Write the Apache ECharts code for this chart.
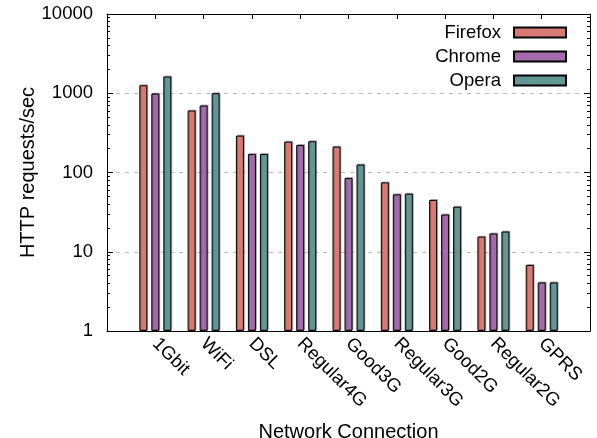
<!DOCTYPE html>
<html>
<head>
<meta charset="utf-8">
<script src="https://cdn.jsdelivr.net/npm/echarts@6/dist/echarts.min.js"></script>
<style>html,body{margin:0;padding:0;background:#fff}#c{width:597px;height:438px}</style>
</head>
<body>
<div id="c"></div>
<script>
var categories = ['1Gbit','WiFi','DSL','Regular4G','Good3G','Regular3G','Good2G','Regular2G','GPRS'];
var firefox = [1260, 605, 292, 245, 212, 75, 45, 15.5, 6.8];
var chrome  = [990, 700, 171, 222, 85, 53, 29.5, 17, 4.1];
var opera   = [1625, 1000, 171, 248, 126, 54, 37, 18, 4.1];
var yTickLabels = [1, 10, 100, 1000, 10000];
var minorTickValues = [2,3,4,5,6,7,8,9,20,30,40,50,60,70,80,90,200,300,400,500,600,700,800,900,2000,3000,4000,5000,6000,7000,8000,9000];

var FONT = 'Liberation Sans';
var axisCats = [''].concat(categories, ['']);
function pad(a){ return [null].concat(a, [null]); }

var chart = echarts.init(document.getElementById('c'));
function yAx(pos, major, labels){
  return {
    type: 'log', logBase: 10, min: 1, max: 10000, position: pos,
    axisLine: {show: major, lineStyle: {color: '#000', width: 1}},
    axisTick: major ? {show: true, inside: true, length: 6, lineStyle: {color: '#000'}}
                    : {show: true, inside: true, length: 3, lineStyle: {color: '#000'}, customValues: minorTickValues},
    axisLabel: {show: labels, color: '#000', fontFamily: FONT, fontSize: 18.5, margin: 14,
      formatter: function(v){ return String(Math.round(v)); }},
    splitLine: {show: major && labels, lineStyle: {color: '#bbbbbb', type: [4, 5], width: 1}},
    name: labels ? 'HTTP requests/sec' : '',
    nameLocation: 'middle', nameGap: 69, nameRotate: 90, nameMoveOverlap: false,
    nameTextStyle: {color: '#000', fontFamily: FONT, fontSize: 20}
  };
}
function barStyle(c){
  return {color: c, borderColor: '#000', borderWidth: 1,
    shadowColor: 'rgba(0,0,0,0.25)', shadowBlur: 0, shadowOffsetX: 1, shadowOffsetY: -1};
}
var option = {
  animation: false,
  backgroundColor: '#fff',
  textStyle: {fontFamily: FONT},
  grid: {left: 107, right: 7, top: 14, bottom: 107, containLabel: false, outerBoundsMode: 'none'},
  legend: {
    orient: 'vertical', right: 25, top: 18, align: 'right', icon: 'rect',
    itemWidth: 52, itemHeight: 10, itemGap: 5,
    textStyle: {color: '#000', fontFamily: FONT, fontSize: 18.5, padding: [0, 8, 0, 0]},
    data: ['Firefox', 'Chrome', 'Opera']
  },
  xAxis: [{
    type: 'category', data: axisCats, boundaryGap: false, position: 'bottom',
    axisLine: {lineStyle: {color: '#000', width: 1}},
    axisTick: {show: true, inside: true, length: 5, interval: 0, lineStyle: {color: '#000'}},
    axisLabel: {interval: 0, rotate: -45, color: '#000', fontFamily: FONT, fontSize: 18.5, margin: 10},
    name: 'Network Connection', nameLocation: 'middle', nameGap: 91, nameMoveOverlap: false,
    nameTextStyle: {color: '#000', fontFamily: FONT, fontSize: 20}
  }, {
    type: 'category', data: axisCats, boundaryGap: false, position: 'top',
    axisLine: {lineStyle: {color: '#000', width: 1}},
    axisTick: {show: true, inside: true, length: 5, interval: 0, lineStyle: {color: '#000'}},
    axisLabel: {show: false}
  }],
  yAxis: [yAx('left', true, true), yAx('left', false, false), yAx('right', true, false), yAx('right', false, false)],
  series: [
    {name: 'Firefox', type: 'bar', data: pad(firefox), barWidth: 8, barGap: '50%', itemStyle: barStyle('#d77a74')},
    {name: 'Chrome', type: 'bar', data: pad(chrome), barWidth: 8, barGap: '50%', itemStyle: barStyle('#a36bab')},
    {name: 'Opera', type: 'bar', data: pad(opera), barWidth: 8, barGap: '50%', itemStyle: barStyle('#629796')}
  ]
};
chart.setOption(option);
</script>
</body>
</html>
